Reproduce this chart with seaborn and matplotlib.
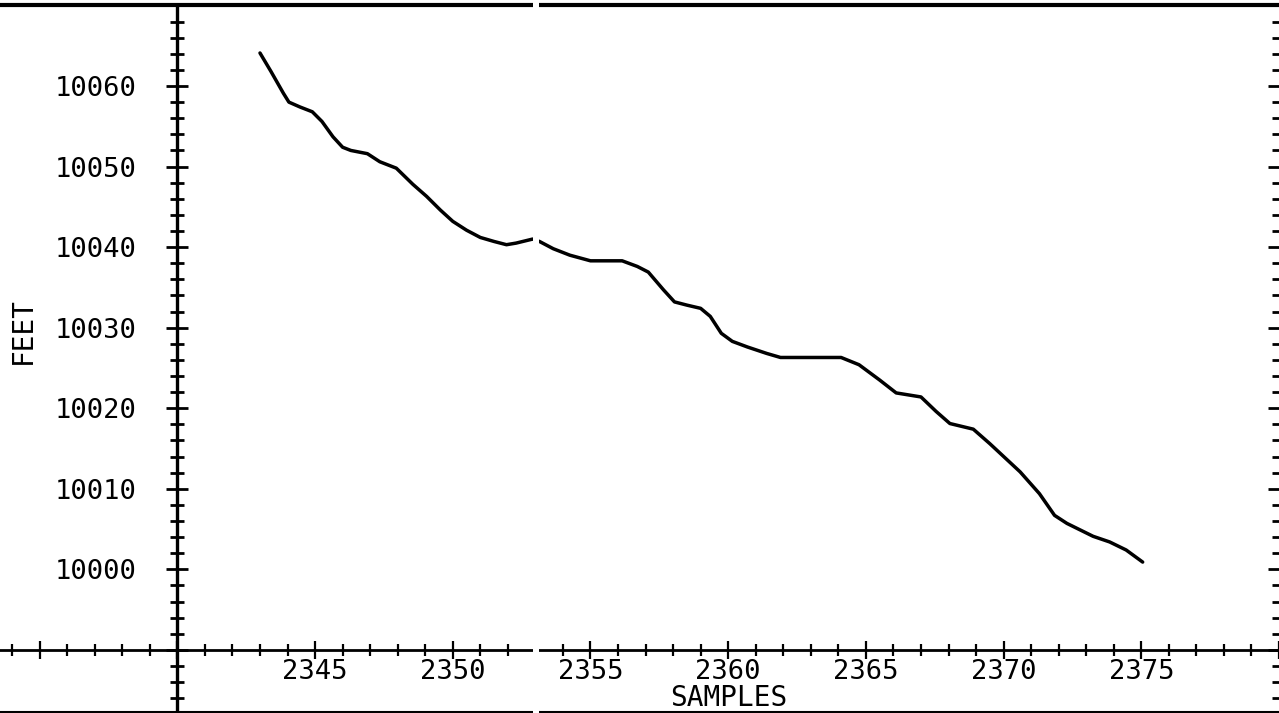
import matplotlib
matplotlib.use("Agg")
import matplotlib.pyplot as plt
from matplotlib.ticker import MultipleLocator, FuncFormatter
from matplotlib.patches import Rectangle
from matplotlib.lines import Line2D
import seaborn as sns
import pandas as pd

# Depth trace: sample index vs depth in feet
samples = [2343.0, 2343.4, 2343.85, 2344.05, 2344.45, 2344.9, 2345.25, 2345.65,
           2346.0, 2346.3, 2346.9, 2347.35, 2347.95, 2348.55, 2349.05, 2349.55,
           2350.0, 2350.5, 2351.0, 2351.5, 2351.95, 2352.3, 2352.9, 2353.15,
           2353.65, 2354.25, 2355.0, 2356.15, 2356.7, 2357.1, 2357.65, 2358.05,
           2358.5, 2359.0, 2359.35, 2359.75, 2360.15, 2360.7, 2361.4, 2361.9,
           2364.1, 2364.75, 2365.5, 2366.1, 2367.0, 2367.55, 2368.05, 2368.9,
           2369.5, 2370.6, 2371.3, 2371.85, 2372.3, 2373.25, 2373.85, 2374.45,
           2375.05]
feet = [10064.1, 10061.8, 10059.1, 10058.0, 10057.4, 10056.8, 10055.6, 10053.7,
        10052.4, 10052.0, 10051.6, 10050.6, 10049.8, 10047.8, 10046.3, 10044.6,
        10043.2, 10042.1, 10041.2, 10040.7, 10040.3, 10040.5, 10041.0, 10040.7,
        10039.8, 10039.0, 10038.3, 10038.3, 10037.6, 10036.9, 10034.7, 10033.2,
        10032.8, 10032.4, 10031.4, 10029.3, 10028.3, 10027.6, 10026.8, 10026.3,
        10026.3, 10025.4, 10023.5, 10021.9, 10021.4, 10019.6, 10018.1, 10017.4,
        10015.6, 10012.1, 10009.4, 10006.7, 10005.7, 10004.1, 10003.4, 10002.4,
        10000.9]

x_range = (2333.56, 2380.0)
y_range = (9982.35, 10070.12)
x_origin = 2340
y_origin = 9990
x_labeled = (2345, 2375)
y_labeled = (10000, 10060)

sns.set_style("white")
plt.rcParams["font.family"] = ["DejaVu Sans Mono", "DejaVu Sans"]

W, H = 1279, 713
fig = plt.figure(figsize=(W / 100, H / 100), dpi=100)
ax = fig.add_axes([0, 1.5 / H, 1, 707 / H])

df = pd.DataFrame({"SAMPLES": samples, "FEET": feet})
sns.lineplot(data=df, x="SAMPLES", y="FEET", sort=False, color="black",
             linewidth=2.5, ax=ax)

ax.set_xlim(*x_range)
ax.set_ylim(*y_range)

# Cross-style axes through the origin
ax.spines["left"].set_position(("data", x_origin))
ax.spines["bottom"].set_position(("data", y_origin))
ax.spines["left"].set_linewidth(2.4)
ax.spines["bottom"].set_linewidth(2.0)
ax.spines["right"].set_visible(False)
ax.spines["top"].set_linewidth(3.0)
for s in ("left", "bottom", "top"):
    ax.spines[s].set_color("black")

ax.xaxis.set_major_locator(MultipleLocator(5))
ax.xaxis.set_minor_locator(MultipleLocator(1))
ax.yaxis.set_major_locator(MultipleLocator(10))
ax.yaxis.set_minor_locator(MultipleLocator(2))


def fmt_x(v, pos):
    return f"{v:.0f}" if x_labeled[0] - 0.1 <= v <= x_labeled[1] + 0.1 else ""


def fmt_y(v, pos):
    return f"{v:.0f}" if y_labeled[0] - 0.1 <= v <= y_labeled[1] + 0.1 else ""


ax.xaxis.set_major_formatter(FuncFormatter(fmt_x))
ax.yaxis.set_major_formatter(FuncFormatter(fmt_y))

ax.tick_params(axis="y", which="major", direction="inout", length=16.5,
               width=2.0, pad=21, labelsize=19.5, left=True, right=True,
               color="black", labelcolor="black")
ax.tick_params(axis="y", which="minor", direction="inout", length=9.4,
               width=2.0, left=True, right=True, color="black")
ax.tick_params(axis="x", which="major", direction="inout", length=13,
               width=1.6, pad=0, labelsize=19.5, bottom=True, top=False,
               color="black", labelcolor="black")
ax.tick_params(axis="x", which="minor", direction="inout", length=8.6,
               width=1.6, bottom=True, top=False, color="black")

ax.set_xlabel("SAMPLES", fontsize=20, color="black")
ax.set_ylabel("FEET", fontsize=20, color="black")
ax.xaxis.set_label_coords(729 / W, (711.5 - 684) / 707)
ax.xaxis.label.set_va("top")
ax.yaxis.set_label_coords(23 / W, (711.5 - 331) / 707)
ax.yaxis.label.set_va("center")

# Lower page frame line
fig.add_artist(Line2D([0, 1], [1.5 / H, 1.5 / H], transform=fig.transFigure,
                      color="black", linewidth=1.5))
# Seam in the sheet
fig.add_artist(Rectangle((533 / W, 0), 5.5 / W, 1, transform=fig.transFigure,
                         facecolor="white", edgecolor="none", zorder=10))

fig.savefig("out.png", dpi=100, facecolor="white")
